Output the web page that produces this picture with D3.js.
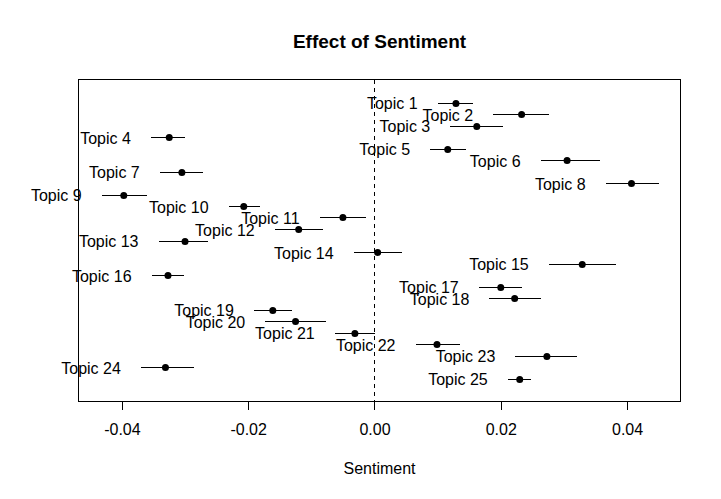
<!DOCTYPE html>
<html>
<head>
<meta charset="utf-8">
<script src="https://cdn.jsdelivr.net/npm/d3@7"></script>
<style>
  body { margin: 0; background: #fff; }
  text { font-family: "Liberation Sans", Arial, sans-serif; fill: #000; }
</style>
</head>
<body>
<div id="chart"></div>
<script>
var topics = ["Topic 1", "Topic 2", "Topic 3", "Topic 4", "Topic 5", "Topic 6", "Topic 7",
  "Topic 8", "Topic 9", "Topic 10", "Topic 11", "Topic 12", "Topic 13", "Topic 14",
  "Topic 15", "Topic 16", "Topic 17", "Topic 18", "Topic 19", "Topic 20", "Topic 21",
  "Topic 22", "Topic 23", "Topic 24", "Topic 25"];
var estimates = [0.0129, 0.0233, 0.0162, -0.0325, 0.0116, 0.0305, -0.0305,
  0.0407, -0.0397, -0.0207, -0.0050, -0.0120, -0.0300, 0.0005,
  0.0329, -0.0327, 0.0200, 0.0222, -0.0161, -0.0125, -0.0031,
  0.0099, 0.0273, -0.0331, 0.0230];
var lower = [0.0100, 0.0188, 0.0120, -0.0354, 0.0088, 0.0263, -0.0340,
  0.0366, -0.0432, -0.0231, -0.0087, -0.0158, -0.0342, -0.0033,
  0.0276, -0.0353, 0.0165, 0.0182, -0.0191, -0.0173, -0.0063,
  0.0065, 0.0223, -0.0370, 0.0211];
var upper = [0.0156, 0.0277, 0.0204, -0.0300, 0.0145, 0.0357, -0.0271,
  0.0451, -0.0360, -0.0181, -0.0014, -0.0082, -0.0263, 0.0044,
  0.0383, -0.0301, 0.0234, 0.0264, -0.0130, -0.0077, 0.0001,
  0.0135, 0.0321, -0.0286, 0.0248];
var tickValues = [-0.04, -0.02, 0, 0.02, 0.04];
var tickLabels = ["-0.04", "-0.02", "0.00", "0.02", "0.04"];

var svgWidth = 721;
var svgHeight = 499;
var plot = {left: 78.5, right: 680.5, top: 79.5, bottom: 401.5};

var svg = d3.select("#chart")
  .append("svg")
  .attr("width", svgWidth)
  .attr("height", svgHeight);

var xScale = d3.scaleLinear()
  .domain([-0.04687, 0.04846])
  .range([plot.left, plot.right]);

// topic i sits at row i + 2, rows counted downward
var yScale = d3.scaleLinear()
  .domain([0, 28])
  .range([plot.top, plot.bottom]);

var rows = topics.map(function(t, i) {
  return {label: t, est: estimates[i], lo: lower[i], hi: upper[i], row: i + 2};
});

// zero reference line
svg.append("line")
  .attr("x1", Math.round(xScale(0)) + 0.5).attr("x2", Math.round(xScale(0)) + 0.5)
  .attr("y1", plot.top).attr("y2", plot.bottom)
  .attr("stroke", "#000")
  .attr("stroke-width", 1)
  .attr("shape-rendering", "crispEdges")
  .attr("stroke-dasharray", "4,4");

var g = svg.selectAll("g.topic")
  .data(rows)
  .enter()
  .append("g")
  .attr("class", "topic");

g.append("line")
  .attr("x1", d => xScale(d.lo))
  .attr("x2", d => xScale(d.hi))
  .attr("y1", d => Math.round(yScale(d.row)) + 0.5)
  .attr("y2", d => Math.round(yScale(d.row)) + 0.5)
  .attr("stroke", "#000")
  .attr("stroke-width", 1)
  .attr("shape-rendering", "crispEdges");

g.append("circle")
  .attr("cx", d => xScale(d.est))
  .attr("cy", d => Math.round(yScale(d.row)) + 0.5)
  .attr("r", 3.5)
  .attr("fill", "#000");

g.append("text")
  .attr("x", d => xScale(d.lo) - 20)
  .attr("y", d => yScale(d.row) + 6.5)
  .attr("text-anchor", "end")
  .style("font-size", "16px")
  .text(d => d.label);

// box
svg.append("rect")
  .attr("x", plot.left)
  .attr("y", plot.top)
  .attr("width", plot.right - plot.left)
  .attr("height", plot.bottom - plot.top)
  .attr("fill", "none")
  .attr("stroke", "#000")
  .attr("stroke-width", 1)
  .attr("shape-rendering", "crispEdges");

var xAxis = d3.axisBottom(xScale)
  .tickValues(tickValues)
  .tickFormat((d, i) => tickLabels[i])
  .tickSize(8)
  .tickPadding(14);

var xAxisGroup = svg.append("g")
  .attr("transform", "translate(0," + plot.bottom + ")")
  .call(xAxis);
xAxisGroup.select(".domain").remove();
xAxisGroup.selectAll(".tick line")
  .attr("stroke", "#000")
  .attr("stroke-width", 1)
  .attr("shape-rendering", "crispEdges");
xAxisGroup.selectAll(".tick text")
  .style("font-size", "16px")
  .style("font-family", "'Liberation Sans', Arial, sans-serif")
  .attr("fill", "#000");

svg.append("text")
  .attr("x", (plot.left + plot.right) / 2)
  .attr("y", 474)
  .attr("text-anchor", "middle")
  .style("font-size", "16px")
  .text("Sentiment");

svg.append("text")
  .attr("x", (plot.left + plot.right) / 2)
  .attr("y", 48)
  .attr("text-anchor", "middle")
  .style("font-size", "19px")
  .style("font-weight", "bold")
  .text("Effect of Sentiment");
</script>
</body>
</html>
